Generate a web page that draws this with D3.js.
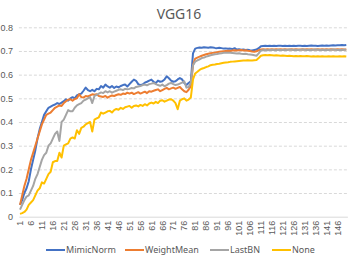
<!DOCTYPE html>
<html>
<head>
<meta charset="utf-8">
<script src="https://cdn.jsdelivr.net/npm/d3@7"></script>
<style>
  body { margin: 0; background: #fff; }
  svg { display: block; font-family: "Noto Sans", "Liberation Sans", sans-serif; }
  .grid line { stroke: #d9d9d9; stroke-dasharray: 3,2; }
  .axis text { fill: #595959; font-size: 9px; }
</style>
</head>
<body>
<div id="chart"></div>
<script>
// epochs 1..150
var epochs = [];
for (var e = 1; e <= 150; e++) epochs.push(e);

var xTickLabels = [1, 6, 11, 16, 21, 26, 31, 36, 41, 46, 51, 56, 61, 66, 71, 76,
    81, 86, 91, 96, 101, 106, 111, 116, 121, 126, 131, 136, 141, 146];
var yTicks = [0, 0.1, 0.2, 0.3, 0.4, 0.5, 0.6, 0.7, 0.8];
var seriesNames = ['MimicNorm', 'WeightMean', 'LastBN', 'None'];

var mimicNorm = [
    0.05, 0.07, 0.10, 0.12, 0.15, 0.20, 0.24, 0.28, 0.33, 0.37,
    0.40, 0.43, 0.445, 0.46, 0.465, 0.47, 0.474, 0.48, 0.476, 0.482,
    0.488, 0.496, 0.49, 0.50, 0.505, 0.50, 0.512, 0.517, 0.52, 0.532,
    0.545, 0.535, 0.53, 0.536, 0.53, 0.54, 0.538, 0.552, 0.545, 0.558,
    0.55, 0.545, 0.552, 0.544, 0.55, 0.546, 0.552, 0.556, 0.558, 0.55,
    0.56, 0.57, 0.579, 0.574, 0.56, 0.556, 0.558, 0.566, 0.57, 0.575,
    0.579, 0.57, 0.564, 0.575, 0.57, 0.572, 0.58, 0.593, 0.585, 0.575,
    0.57, 0.572, 0.58, 0.586, 0.58, 0.565, 0.556, 0.565, 0.572, 0.69,
    0.71, 0.713, 0.715, 0.714, 0.716, 0.715, 0.714, 0.716, 0.715, 0.713,
    0.712, 0.714, 0.712, 0.71, 0.711, 0.709, 0.71, 0.708, 0.712, 0.706,
    0.707, 0.705, 0.706, 0.704, 0.705, 0.703, 0.702, 0.704, 0.706, 0.712,
    0.72, 0.721, 0.722, 0.721, 0.722, 0.721, 0.722, 0.721, 0.722, 0.722,
    0.721, 0.722, 0.721, 0.722, 0.721, 0.722, 0.721, 0.722, 0.722, 0.721,
    0.722, 0.721, 0.722, 0.723, 0.722, 0.722, 0.721, 0.722, 0.723, 0.722,
    0.723, 0.722, 0.723, 0.724, 0.723, 0.724, 0.724, 0.725, 0.724, 0.725
];

var weightMean = [
    0.05, 0.09, 0.13, 0.16, 0.20, 0.24, 0.27, 0.30, 0.33, 0.36,
    0.39, 0.41, 0.43, 0.435, 0.44, 0.45, 0.46, 0.465, 0.47, 0.468,
    0.48, 0.488, 0.494, 0.496, 0.49, 0.497, 0.50, 0.517, 0.505, 0.503,
    0.51, 0.508, 0.512, 0.517, 0.515, 0.517, 0.51, 0.508, 0.506, 0.51,
    0.503, 0.508, 0.512, 0.51, 0.514, 0.517, 0.515, 0.52, 0.518, 0.524,
    0.52, 0.524, 0.518, 0.522, 0.526, 0.52, 0.524, 0.528, 0.522, 0.53,
    0.528, 0.532, 0.535, 0.538, 0.53, 0.535, 0.54, 0.544, 0.538, 0.542,
    0.545, 0.54, 0.544, 0.548, 0.538, 0.53, 0.526, 0.536, 0.551, 0.64,
    0.668, 0.672, 0.676, 0.68, 0.683, 0.686, 0.688, 0.69, 0.692, 0.693,
    0.695, 0.697, 0.698, 0.699, 0.70, 0.701, 0.70, 0.702, 0.703, 0.702,
    0.703, 0.704, 0.702, 0.703, 0.701, 0.70, 0.698, 0.697, 0.699, 0.703,
    0.706, 0.707, 0.706, 0.707, 0.706, 0.707, 0.706, 0.707, 0.706, 0.707,
    0.706, 0.707, 0.706, 0.706, 0.707, 0.706, 0.707, 0.706, 0.706, 0.707,
    0.706, 0.707, 0.706, 0.707, 0.706, 0.706, 0.707, 0.706, 0.707, 0.706,
    0.707, 0.706, 0.707, 0.706, 0.706, 0.707, 0.706, 0.707, 0.706, 0.706
];

var lastBN = [
    0.03, 0.05, 0.07, 0.085, 0.09, 0.11, 0.13, 0.16, 0.18, 0.21,
    0.24, 0.26, 0.27, 0.30, 0.31, 0.33, 0.35, 0.36, 0.32, 0.40,
    0.41, 0.43, 0.45, 0.445, 0.445, 0.46, 0.47, 0.475, 0.48, 0.49,
    0.495, 0.50, 0.505, 0.48, 0.51, 0.515, 0.52, 0.525, 0.522, 0.53,
    0.525, 0.53, 0.524, 0.528, 0.532, 0.536, 0.538, 0.535, 0.54, 0.538,
    0.54, 0.544, 0.542, 0.548, 0.55, 0.552, 0.556, 0.558, 0.555, 0.56,
    0.562, 0.565, 0.56, 0.556, 0.553, 0.558, 0.551, 0.556, 0.562, 0.565,
    0.56, 0.556, 0.558, 0.562, 0.566, 0.572, 0.545, 0.548, 0.565, 0.64,
    0.655, 0.66, 0.665, 0.67, 0.672, 0.676, 0.679, 0.682, 0.684, 0.686,
    0.687, 0.689, 0.69, 0.692, 0.693, 0.693, 0.692, 0.691, 0.69, 0.689,
    0.69, 0.688, 0.687, 0.688, 0.686, 0.685, 0.684, 0.682, 0.68, 0.69,
    0.702, 0.703, 0.704, 0.703, 0.704, 0.705, 0.704, 0.703, 0.705, 0.704,
    0.704, 0.705, 0.704, 0.706, 0.705, 0.704, 0.705, 0.704, 0.705, 0.706,
    0.705, 0.704, 0.705, 0.704, 0.705, 0.706, 0.705, 0.704, 0.705, 0.704,
    0.705, 0.704, 0.705, 0.706, 0.705, 0.704, 0.705, 0.704, 0.705, 0.705
];

var none = [
    0.012, 0.015, 0.02, 0.03, 0.05, 0.06, 0.07, 0.09, 0.11, 0.12,
    0.145, 0.14, 0.16, 0.18, 0.19, 0.23, 0.235, 0.235, 0.27, 0.25,
    0.30, 0.305, 0.31, 0.33, 0.335, 0.33, 0.365, 0.35, 0.375, 0.38,
    0.39, 0.395, 0.40, 0.36, 0.41, 0.415, 0.42, 0.44, 0.435, 0.44,
    0.445, 0.447, 0.44, 0.45, 0.455, 0.452, 0.46, 0.455, 0.462, 0.465,
    0.468, 0.46, 0.468, 0.47, 0.466, 0.472, 0.468, 0.475, 0.47, 0.478,
    0.482, 0.478, 0.485, 0.48, 0.49, 0.492, 0.486, 0.49, 0.495, 0.496,
    0.49, 0.48, 0.454, 0.49, 0.496, 0.50, 0.49, 0.495, 0.503, 0.58,
    0.605, 0.612, 0.62, 0.625, 0.628, 0.632, 0.635, 0.64, 0.642, 0.643,
    0.645, 0.646, 0.648, 0.65, 0.651, 0.652, 0.654, 0.655, 0.656, 0.657,
    0.658, 0.659, 0.66, 0.66, 0.661, 0.66, 0.66, 0.661, 0.662, 0.67,
    0.68, 0.682, 0.683, 0.682, 0.683, 0.682, 0.681, 0.682, 0.681, 0.68,
    0.681, 0.68, 0.679, 0.68, 0.679, 0.678, 0.679, 0.678, 0.679, 0.678,
    0.678, 0.679, 0.678, 0.677, 0.678, 0.677, 0.678, 0.677, 0.678, 0.677,
    0.677, 0.678, 0.677, 0.678, 0.677, 0.677, 0.678, 0.677, 0.678, 0.677
];

var colors = ['#4472C4', '#ED7D31', '#A5A5A5', '#FFC000'];
var series = [mimicNorm, weightMean, lastBN, none];

var width = 349, height = 255;
var margin = {top: 27.3, left: 18.9, right: 1.6, bottom: 38.3};

var svg = d3.select('#chart')
    .append('svg')
    .attr('width', width)
    .attr('height', height);

var x = d3.scaleBand()
    .domain(epochs)
    .range([margin.left, width - margin.right])
    .padding(0);

var y = d3.scaleLinear()
    .domain([0, 0.8])
    .range([height - margin.bottom, margin.top]);

// title
svg.append('text')
    .attr('x', 179)
    .attr('y', 19)
    .attr('text-anchor', 'middle')
    .attr('fill', '#595959')
    .style('font-size', '14px')
    .text('VGG16');

// gridlines + y labels
svg.append('g')
    .attr('class', 'grid axis')
    .attr('transform', 'translate(' + margin.left + ',0)')
    .call(d3.axisLeft(y)
        .tickValues(yTicks)
        .tickSize(-(width - margin.left - margin.right))
        .tickPadding(6)
        .tickFormat(function(d) { return d === 0 ? '0' : d.toFixed(1) }))
    .call(function(g) { g.select('.domain').remove() })
    .call(function(g) { g.selectAll('.tick').filter(function(d) { return d === 0 }).select('line').remove() });

// x axis
var xAxis = svg.append('g')
    .attr('class', 'axis')
    .attr('transform', 'translate(0,' + y(0) + ')')
    .call(d3.axisBottom(x)
        .tickValues(xTickLabels)
        .tickSize(0));

xAxis.select('.domain').attr('stroke', '#d9d9d9');

xAxis.selectAll('.tick text')
    .attr('transform', 'rotate(-90)')
    .attr('text-anchor', 'end')
    .attr('x', -4)
    .attr('y', 0)
    .attr('dy', '0.35em');

// lines
var line = d3.line()
    .x(function(d, i) { return x(epochs[i]) + x.bandwidth() / 2 })
    .y(function(d) { return y(d) });

svg.append('g')
    .selectAll('path')
    .data(series)
    .enter()
    .append('path')
    .attr('fill', 'none')
    .attr('stroke', function(d, i) { return colors[i] })
    .attr('stroke-width', 2)
    .attr('stroke-linejoin', 'round')
    .attr('d', line);

// legend
var legendX = [46, 125, 210, 272];
var legend = svg.append('g')
    .attr('class', 'axis')
    .selectAll('g')
    .data(seriesNames)
    .enter()
    .append('g')
    .attr('transform', function(d, i) { return 'translate(' + legendX[i] + ',250)' });

legend.append('line')
    .attr('x1', 0)
    .attr('x2', 19)
    .attr('stroke', function(d, i) { return colors[i] })
    .attr('stroke-width', 2);

legend.append('text')
    .attr('x', 20)
    .attr('dy', '0.35em')
    .text(function(d) { return d });
</script>
</body>
</html>
